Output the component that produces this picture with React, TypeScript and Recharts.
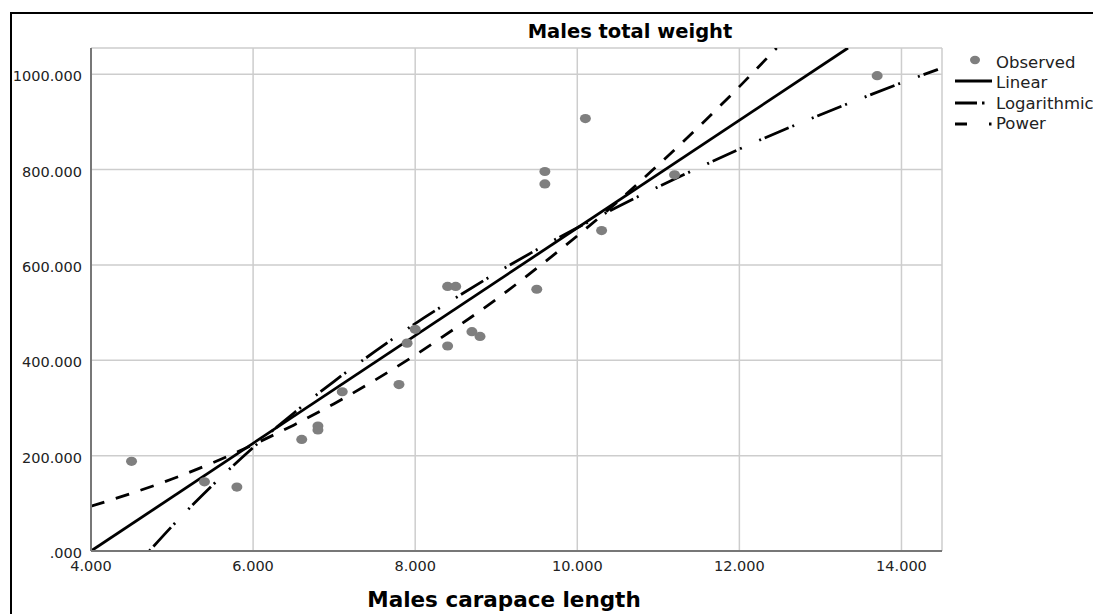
import React from 'react';
import { ComposedChart, Scatter, Line, XAxis, YAxis, CartesianGrid } from 'recharts';

// observed points
const obsX = [4.5, 5.4, 5.8, 6.6, 6.8, 6.8, 7.1, 7.8, 7.9, 8.0, 8.4, 8.4, 8.5, 8.7, 8.8, 9.5, 9.6, 9.6, 10.1, 10.3, 11.2, 13.7];
const obsY = [188, 145, 134, 234, 262, 254, 334, 349, 436, 465, 430, 555, 555, 460, 450, 549, 796, 770, 907, 672, 789, 997];

// fitted curves, sampled along the drawn lines
const linearX = [4, 13.34];
const linearY = [0, 1055];
const logX = [4.72, 5, 5.5, 6, 6.5, 7, 7.5, 8, 8.5, 9, 9.5, 10, 10.5, 11, 11.5, 12, 12.5, 13, 13.5, 14, 14.45];
const logY = [0, 52, 138, 217, 289, 356, 418, 477, 531, 583, 632, 678, 722, 764, 804, 843, 880, 915, 949, 982, 1010];
const powerX = [4, 4.5, 5, 5.5, 6, 6.5, 7, 7.5, 8, 8.5, 9, 9.5, 10, 10.5, 11, 11.5, 12, 12.46];
const powerY = [94, 121, 151, 185, 223, 264, 309, 358, 411, 468, 528, 593, 661, 733, 810, 890, 974, 1055];

const xTicks = [4, 6, 8, 10, 12, 14];
const yTicks = [0, 200, 400, 600, 800, 1000];
const legendNames = ['Observed', 'Linear', 'Logarithmic', 'Power'];

const zip = (xs: number[], ys: number[]) => xs.map((x, i) => ({ x, y: ys[i] }));
const fmt = (v: number) => (v === 0 ? '.000' : v.toFixed(3));

const FONT = '"DejaVu Sans", sans-serif';
const LOG_DASH = '2 4 26 4 2 19';
const POW_DASH = '14 12';
const W = 2.8;

export default function App() {
  const observed = zip(obsX, obsY);
  const linear = zip(linearX, linearY);
  const log = zip(logX, logY);
  const power = zip(powerX, powerY);

  return (
    <div style={{ position: 'relative', width: 1093, height: 614, overflow: 'hidden', background: '#fff' }}>
      <style>{'body{margin:0}'}</style>
      <div style={{ position: 'absolute', left: 10, top: 12, width: 1300, height: 800, border: '2px solid #000' }} />
      <div style={{ position: 'absolute', left: 0, top: 0 }}>
        <ComposedChart width={1093} height={614} margin={{ top: 48, right: 151, bottom: 33, left: 11 }}>
          <CartesianGrid stroke="#cdcdcd" strokeWidth={1.5} />
          <XAxis
            type="number"
            dataKey="x"
            domain={[4, 14.5]}
            ticks={xTicks}
            tickFormatter={fmt}
            allowDataOverflow
            height={30}
            tickLine={false}
            tickSize={1}
            tickMargin={9}
            axisLine={{ stroke: '#777', strokeWidth: 2 }}
            tick={{ fontFamily: FONT, fontSize: 14.5, fill: '#222' }}
          />
          <YAxis
            type="number"
            dataKey="y"
            domain={[0, 1055]}
            ticks={yTicks}
            tickFormatter={fmt}
            allowDataOverflow
            width={80}
            tickLine={false}
            tickSize={1}
            tickMargin={8}
            axisLine={{ stroke: '#777', strokeWidth: 2 }}
            tick={{ fontFamily: FONT, fontSize: 14.5, fill: '#222', dy: 2 }}
          />
          <Scatter
            data={observed}
            dataKey="y"
            isAnimationActive={false}
            shape={(p: any) => <ellipse cx={p.cx} cy={p.cy} rx={5.5} ry={4.6} fill="#7f7f7f" />}
          />
          <Line data={linear} dataKey="y" type="linear" stroke="#000" strokeWidth={W} dot={false} activeDot={false} isAnimationActive={false} />
          <Line data={log} dataKey="y" type="monotone" stroke="#000" strokeWidth={W} strokeDasharray={LOG_DASH} dot={false} activeDot={false} isAnimationActive={false} />
          <Line data={power} dataKey="y" type="monotone" stroke="#000" strokeWidth={W} strokeDasharray={POW_DASH} dot={false} activeDot={false} isAnimationActive={false} />
        </ComposedChart>
      </div>
      <svg width={1093} height={614} style={{ position: 'absolute', left: 0, top: 0, pointerEvents: 'none' }}>
        <text x={630} y={38} textAnchor="middle" fontFamily={FONT} fontWeight="bold" fontSize={19.5} fill="#000">
          Males total weight
        </text>
        <text x={504} y={607} textAnchor="middle" fontFamily={FONT} fontWeight="bold" fontSize={21.5} fill="#000">
          Males carapace length
        </text>
        {/* legend */}
        <ellipse cx={975} cy={60} rx={5} ry={4.2} fill="#7f7f7f" />
        <line x1={955} x2={992} y1={81} y2={81} stroke="#000" strokeWidth={W} />
        <line x1={955} x2={985} y1={103} y2={103} stroke="#000" strokeWidth={W} strokeDasharray="22 5 2.5 10" />
        <line x1={955} x2={992} y1={124} y2={124} stroke="#000" strokeWidth={W} strokeDasharray="12 22 2.5 10" />
        {legendNames.map((n, i) => (
          <text key={n} x={996} y={67.5 + i * 20.6} fontFamily={FONT} fontSize={16.5} fill="#222">
            {n}
          </text>
        ))}
      </svg>
    </div>
  );
}
